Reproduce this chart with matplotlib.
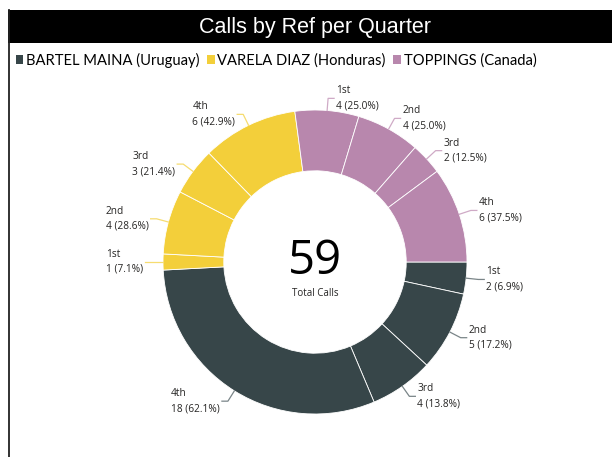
import numpy as np
import matplotlib.pyplot as plt
from matplotlib.patches import Rectangle, Patch
from matplotlib.lines import Line2D

refs = ['BARTEL MAINA (Uruguay)', 'VARELA DIAZ (Honduras)', 'TOPPINGS (Canada)']
quarters = ['1st', '2nd', '3rd', '4th']
bartel = [2, 5, 4, 18]
varela = [1, 4, 3, 6]
toppings = [4, 4, 2, 6]
colors = ['#374649', '#F3CF3A', '#B887AD']
line_colors = ['#7a8588', '#f6dc70', '#cfaac6']

W, H = 612, 457
fig = plt.figure(figsize=(W / 100, H / 100), dpi=100)
ax = fig.add_axes([0, 0, 1, 1])

# frame and title bar
fig.add_artist(Rectangle((8 / W, 1 - 43 / H), 1, 33 / H, transform=fig.transFigure,
                         facecolor='black', edgecolor='none'))
fig.add_artist(Line2D([8.5 / W, 8.5 / W], [0, 1 - 10 / H], transform=fig.transFigure,
                      color='#222222', lw=1.3))
fig.text(315 / W, 1 - 27 / H, 'Calls by Ref per Quarter', color='white',
         fontsize=15.5, family='Liberation Sans', ha='center', va='center')

handles = [Patch(facecolor=c, edgecolor='none') for c in colors]
fig.legend(handles, refs, loc='center left', bbox_to_anchor=(16 / W, 1 - 60 / H),
           ncol=3, frameon=False, handlelength=0.5, handleheight=0.5,
           handletextpad=0.2, columnspacing=0.5, borderaxespad=0, borderpad=0,
           prop={'family': 'Lato', 'size': 10.6})

groups = [bartel, varela, toppings]
values = [v for g in groups for v in g]
wcolors = [colors[i] for i, g in enumerate(groups) for _ in g]
cx, cy, R = 315, H - 262, 152
wedges, _ = ax.pie(values, colors=wcolors, startangle=0, counterclock=False,
                   radius=R, center=(cx, cy), frame=True,
                   wedgeprops=dict(width=R * 0.4, edgecolor='white', linewidth=0.6))
ax.set_xlim(0, W)
ax.set_ylim(0, H)
ax.set_aspect('equal')
ax.axis('off')

k = 0
for gi, g in enumerate(groups):
    tot = sum(g)
    for qi, v in enumerate(g):
        w = wedges[k]
        k += 1
        th = np.deg2rad((w.theta1 + w.theta2) / 2)
        c, s = np.cos(th), np.sin(th)
        p0 = (cx + R * c, cy + R * s)
        p1 = (cx + R * 1.08 * c, cy + R * 1.08 * s)
        d = 1 if c >= 0 else -1
        p2 = (p1[0] + d * 6, p1[1])
        ax.plot([p0[0], p1[0], p2[0]], [p0[1], p1[1], p2[1]],
                color=line_colors[gi], lw=0.9)
        ax.text(p2[0] + d * 2, p2[1], f'{quarters[qi]}\n{v} ({v / tot * 100:.1f}%)',
                ha='left' if d > 0 else 'right', va='center', multialignment='left',
                fontsize=7.3, family='Open Sans', color='#252423', linespacing=1.5)

ax.text(cx, cy + 1, str(sum(values)), ha='center', va='center', fontsize=34,
        family='Open Sans', color='black')
ax.text(cx, cy - 31, 'Total Calls', ha='center', va='center', fontsize=7,
        family='Open Sans', color='#252423')

fig.savefig('out.png', dpi=100)
